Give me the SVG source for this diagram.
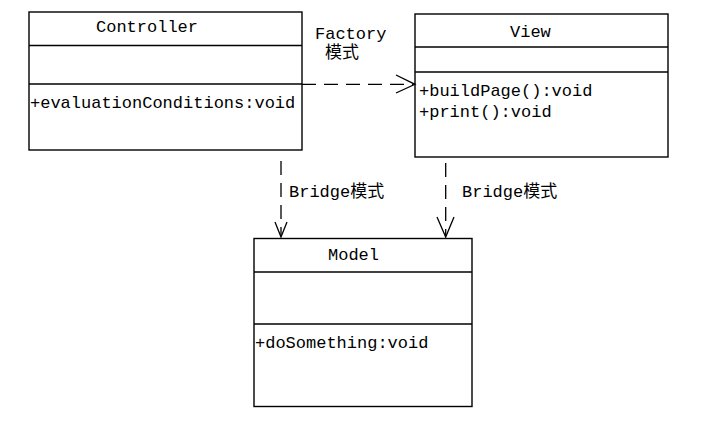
<svg xmlns="http://www.w3.org/2000/svg" width="704" height="440" viewBox="0 0 704 440">
<style>
.box{fill:#fff;stroke:#000;stroke-width:1.4}
.div{stroke:#000;stroke-width:1.4}
.t{font-family:"Liberation Mono","Noto Sans CJK SC",monospace;font-size:17px;fill:#000}
.c{stroke:#000;stroke-width:1.3;fill:none}
.d{stroke-dasharray:14 8}
</style>
<rect width="704" height="440" fill="#fff"/>
<g id="controller">
<rect class="box" x="29" y="12" width="273" height="138"/>
<line class="div" x1="29" y1="45.5" x2="302" y2="45.5"/>
<line class="div" x1="29" y1="84" x2="302" y2="84"/>
<text class="t" x="96" y="32">Controller</text>
<text class="t" x="30" y="108">+evaluationConditions:void</text>
</g>
<g id="view">
<rect class="box" x="415" y="14" width="253" height="143"/>
<line class="div" x1="415" y1="47" x2="668" y2="47"/>
<line class="div" x1="415" y1="72" x2="668" y2="72"/>
<text class="t" x="510" y="37">View</text>
<text class="t" x="419" y="96">+buildPage():void</text>
<text class="t" x="419" y="117">+print():void</text>
</g>
<g id="model">
<rect class="box" x="254" y="238.5" width="218" height="168"/>
<line class="div" x1="254" y1="272" x2="472" y2="272"/>
<line class="div" x1="254" y1="324" x2="472" y2="324"/>
<text class="t" x="328" y="260">Model</text>
<text class="t" x="255" y="348">+doSomething:void</text>
</g>
<g id="connectors">
<line class="c d" x1="302" y1="84.3" x2="413" y2="84.3"/>
<polyline class="c" points="396,75 415,84.3 396,93"/>
<line class="c d" x1="281" y1="161" x2="281" y2="236"/>
<polyline class="c" points="275,222 281,237 287,222"/>
<line class="c d" x1="445.7" y1="163" x2="445.7" y2="236"/>
<polyline class="c" points="437,217 445.7,237 454,217"/>
</g>
<g id="labels">
<text class="t" x="315" y="39">Factory</text>
<text class="t" x="325" y="58">模式</text>
<text class="t" x="289" y="197">Bridge模式</text>
<text class="t" x="462" y="197">Bridge模式</text>
</g>
</svg>
